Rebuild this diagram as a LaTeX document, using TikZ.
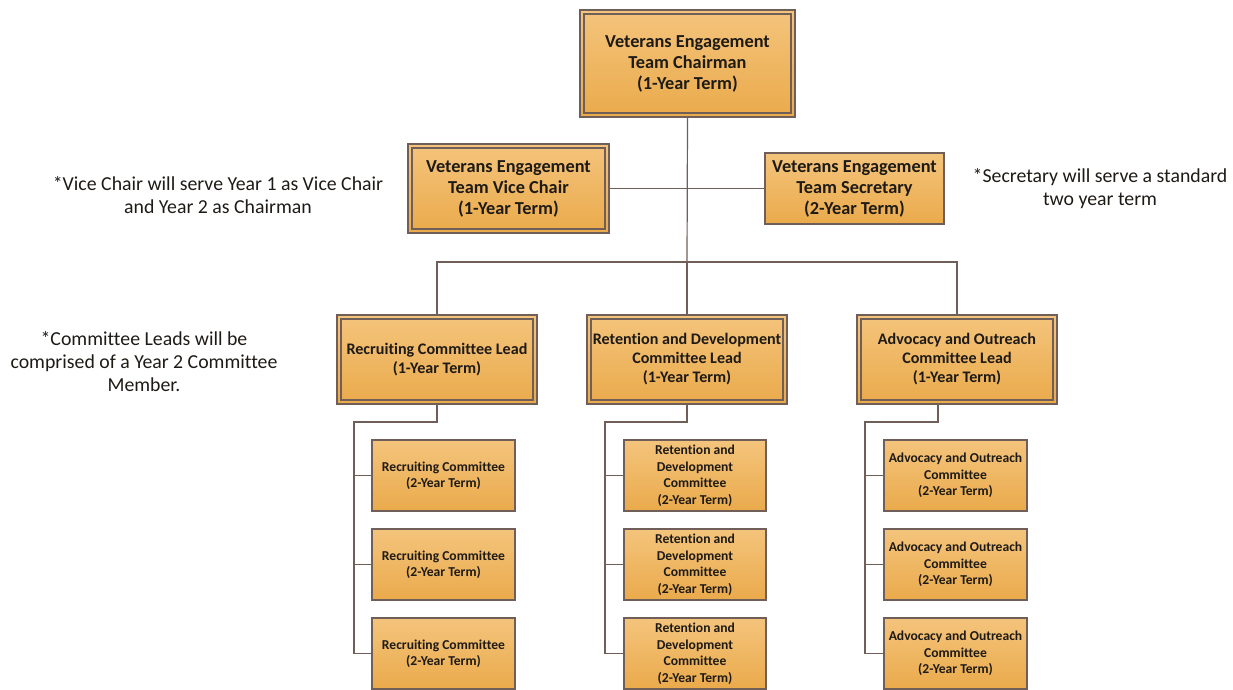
\documentclass[tikz,border=0pt]{standalone}
\usepackage{fontspec}
\setmainfont[Ligatures=NoCommon]{Carlito}
\usepackage{xcolor}
\usetikzlibrary{positioning,calc}
\definecolor{uTop}{HTML}{F4C47C}
\definecolor{uBot}{HTML}{EAAA4B}
\definecolor{uLine}{HTML}{6F5F58}
\definecolor{uText}{HTML}{1E1A16}
\tikzset{
  blk/.style={draw=uLine, line width=1.3pt, top color=uTop, bottom color=uBot,
              align=center, inner sep=0pt, text=uText},
  % second, inner frame of the double-ruled boxes
  dbl/.style={path picture={\draw[uLine, line width=1.2pt]
      ([shift={(4pt,-4pt)}]path picture bounding box.north west) rectangle
      ([shift={(-4pt,4pt)}]path picture bounding box.south east);}},
  post/.style={blk, font=\fontsize{18.3}{21}\selectfont\bfseries},
  lead/.style={blk, dbl, minimum width=200pt, minimum height=89pt,
               font=\fontsize{16.1}{19}\selectfont\bfseries},
  member/.style={blk, minimum width=143pt, minimum height=71pt,
                 font=\fontsize{13.6}{16.5}\selectfont\bfseries},
  wire/.style={draw=uLine, line width=1.2pt},
  note/.style={font=\fontsize{19.8}{23}\selectfont, align=center, text=uText},
}

\begin{document}
\begin{tikzpicture}[x=1pt, y=-1pt]
\useasboundingbox (0,0) rectangle (1233,689);
\clip (0,0) rectangle (1233,689);

%% ── top of the team ──────────────────────────────────────────────────────
\node[post, dbl, minimum width=215pt, minimum height=107pt] (chair) at (687.5,63.5)
  {Veterans Engagement\\Team Chairman\\(1-Year Term)};
\node[post, dbl, minimum width=201pt, minimum height=89pt] (vice) at (508.5,188.5)
  {Veterans Engagement\\Team Vice Chair\\(1-Year Term)};
\node[post, minimum width=179pt, minimum height=71pt] (sec) at (854.5,188.5)
  {Veterans Engagement\\Team Secretary\\(2-Year Term)};

\coordinate (bus) at (687,262);
\draw[wire] (chair.south) -- (bus);
\draw[wire] (vice.east) -- (sec.west);

%% ── committee leads ──────────────────────────────────────────────────────
\node[lead] (rlead) at (437,359.5) {Recruiting Committee Lead\\(1-Year Term)};
\node[lead] (dlead) at (687,359.5)
  {Retention and Development\\Committee Lead\\(1-Year Term)};
\node[lead] (alead) at (957,359.5)
  {Advocacy and Outreach\\Committee Lead\\(1-Year Term)};

\draw[wire] (rlead.north) |- (bus) -| (alead.north);
\draw[wire] (bus) -- (dlead.north);

%% ── committee members ────────────────────────────────────────────────────
\foreach \i/\y in {1/475.5, 2/564.5, 3/653.5} {
  \node[member] (rc\i) at (443.5,\y) {Recruiting Committee\\(2-Year Term)};
  \node[member, minimum width=142pt] (dc\i) at (695,\y)
    {Retention and\\Development\\Committee\\(2-Year Term)};
  \node[member] (ac\i) at (955.5,\y)
    {Advocacy and Outreach\\Committee\\(2-Year Term)};
}

\coordinate (rbend) at (354,422);
\coordinate (dbend) at (605,422);
\coordinate (abend) at (865,422);
\draw[wire] (rlead.south) |- (rbend) |- (rc3.west);
\draw[wire] (dlead.south) |- (dbend) |- (dc3.west);
\draw[wire] ([xshift=-19pt]alead.south) |- (abend) |- (ac3.west);
\foreach \i in {1,2} {
  \draw[wire] (rbend |- rc\i.west) -- (rc\i.west);
  \draw[wire] (dbend |- dc\i.west) -- (dc\i.west);
  \draw[wire] (abend |- ac\i.west) -- (ac\i.west);
}

%% ── side notes ───────────────────────────────────────────────────────────
\node[note] (nvice) at (218,195)
  {*Vice Chair will serve Year 1 as Vice Chair\\and Year 2 as Chairman};
\node[note] (nsec) at (1100,189)
  {*Secretary will serve a standard\\two year term};
\node[note] (nlead) at (144,362)
  {*Committee Leads will be\\comprised of a Year 2 Committee\\Member.};

\end{tikzpicture}
\end{document}
